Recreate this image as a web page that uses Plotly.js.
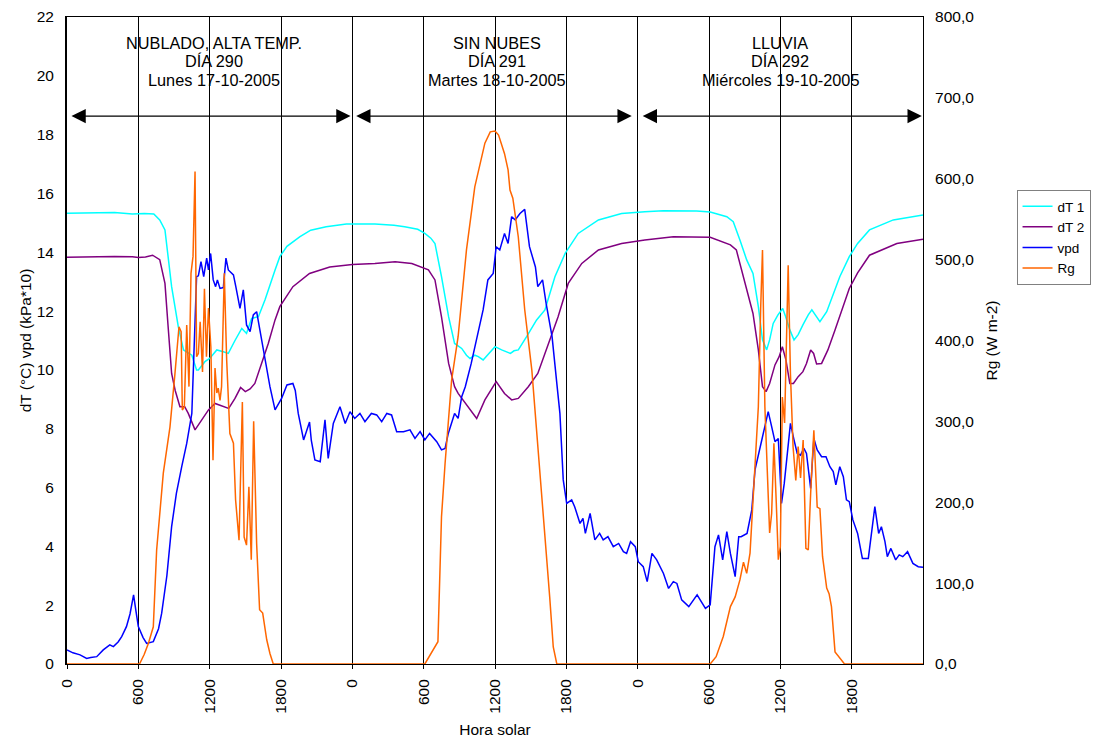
<!DOCTYPE html>
<html>
<head>
<meta charset="utf-8">
<script src="https://cdn.plot.ly/plotly-3.0.1.min.js"></script>
<style>html,body{margin:0;padding:0;background:#fff;}#chart{width:1096px;height:738px;}</style>
</head>
<body>
<div id="chart"></div>
<script>
// Time in hours since 00:00 of day 290 (0-72 h, three days)
const dayStarts = [0, 24, 48];
const dayLabels = [
  ["NUBLADO, ALTA TEMP.", "DÍA 290", "Lunes 17-10-2005"],
  ["SIN NUBES", "DÍA 291", "Martes 18-10-2005"],
  ["LLUVIA", "DÍA 292", "Miércoles 19-10-2005"]
];
const tickHours = [0, 6, 12, 18, 24, 30, 36, 42, 48, 54, 60, 66];
const tickLabels = ["0", "600", "1200", "1800", "0", "600", "1200", "1800", "0", "600", "1200", "1800"];

// dT 1 (°C)
const dT1_t = [0,2,4,5.5,6.5,7.3,7.8,8.24,8.8,9.36,9.8,10.5,10.9,11.05,11.6,12.0,12.6,13.15,13.57,14.13,14.7,15.1,15.53,16.1,16.65,17.5,17.9,18.5,19.6,20.5,21.8,23.5,
  24.5,25.9,27.5,28.4,29.5,30.1,30.6,30.95,31.5,32.1,32.6,33.2,33.6,33.9,34.3,34.6,35.0,35.5,36.0,36.56,37.0,37.3,37.6,37.96,38.66,39.5,40.2,41.04,41.9,43.0,44.7,46.65,48.6,
  50.15,52.96,54.1,55.5,56.04,56.6,57.17,57.7,58.15,58.5,58.85,59.1,59.4,59.8,60.2,60.45,60.8,61.15,61.5,61.9,62.35,62.65,63.0,63.33,63.9,64.45,65.0,65.8,66.5,67.5,69.5,72];
const dT1_v = [15.33,15.35,15.35,15.3,15.32,15.3,15.1,14.76,12.83,11.47,10.68,10.5,10.0,10.0,10.28,10.39,10.68,10.62,10.56,11.0,11.41,11.24,11.75,11.81,12.38,13.4,13.85,14.2,14.53,14.75,14.87,14.96,
  14.97,14.96,14.92,14.87,14.78,14.64,14.48,14.3,13.17,11.8,10.9,10.73,10.5,10.39,10.5,10.45,10.34,10.55,10.79,10.68,10.62,10.56,10.65,10.68,11.13,11.7,12.04,13.17,13.96,14.64,15.1,15.32,15.38,
  15.41,15.4,15.37,15.21,15.04,14.42,13.74,13.28,12.15,11.02,10.68,11.02,11.58,11.87,12.09,11.81,11.36,11.02,11.2,11.53,11.87,12.04,11.81,11.64,11.98,12.55,13.17,13.85,14.3,14.76,15.1,15.27];

// dT 2 (°C)
const dT2_t = [0,2,4,5.5,6.0,6.6,7.2,7.8,8.24,8.5,8.8,9.1,9.5,9.9,10.2,10.77,11.3,11.9,12.45,13.15,13.6,14.13,14.6,15.0,15.4,15.8,16.37,16.93,17.5,17.9,19.0,20.4,22.1,24.0,
  25.9,27.6,29.0,30.4,30.95,31.5,32.1,32.6,32.9,33.75,34.46,35.15,36.1,36.8,37.4,37.96,38.8,39.6,40.5,41.3,42.16,43.3,44.7,46.65,48.6,
  51.0,54.1,55.8,56.3,56.6,57.17,57.7,58.15,58.5,58.8,59.1,59.55,59.9,60.17,60.47,60.8,61.1,61.5,61.9,62.2,62.55,62.8,63.05,63.47,64.0,64.6,65.15,65.8,66.5,67.5,69.8,72];
const dT2_v = [13.83,13.85,13.86,13.85,13.82,13.84,13.9,13.75,12.94,11.5,9.88,9.3,8.75,8.75,8.52,7.96,8.3,8.64,8.86,8.75,8.69,9.03,9.4,9.26,9.35,9.54,10.22,10.9,11.7,12.15,12.83,13.28,13.5,13.58,
  13.62,13.68,13.62,13.4,13.06,11.8,10.22,9.43,9.2,8.75,8.35,8.98,9.6,9.2,8.98,9.03,9.43,9.88,10.9,11.8,12.94,13.62,14.08,14.3,14.42,
  14.53,14.51,14.25,14.08,13.62,12.83,11.92,10.68,9.43,9.26,9.54,10.17,10.45,10.79,10.34,9.54,9.54,9.77,9.94,10.22,10.68,10.56,10.2,10.22,10.68,11.36,12.04,12.77,13.3,13.9,14.3,14.44];

// vpd (kPa*10)
const vpd_t = [0,0.5,1.1,1.65,2.0,2.5,3.05,3.6,3.9,4.3,4.6,5.0,5.3,5.6,5.8,6.0,6.4,6.7,7.26,7.7,7.96,8.4,8.8,9.2,9.65,10.07,10.5,10.7,10.9,11.05,11.27,11.5,11.75,11.9,12.08,12.3,12.5,12.65,12.87,13.15,13.37,13.57,14.0,14.2,14.55,14.83,15.1,15.4,15.67,15.95,16.23,16.65,17.07,17.5,18.05,18.5,19.0,19.2,19.45,19.9,20.3,20.4,20.55,20.85,21.3,21.7,21.97,22.4,22.96,23.4,23.8,24.2,
  24.64,25.06,25.6,26.05,26.47,26.9,27.3,27.73,28.3,28.85,29.27,29.7,30.1,30.5,31.1,31.5,31.8,32.07,32.6,32.9,33.2,33.5,34.0,34.6,35.0,35.4,35.85,36.1,36.4,36.8,37.1,37.4,37.7,38.1,38.5,38.9,39.4,39.6,40.0,40.3,40.8,41.2,41.46,41.74,42.03,42.45,42.7,43.15,43.4,43.6,44.0,44.4,44.8,45.1,45.5,45.95,46.4,46.8,47.07,47.4,47.8,
  48.05,48.47,48.8,49.2,49.6,50.17,50.6,51.0,51.3,51.7,52.3,53.0,53.7,54.1,54.5,54.8,55.15,55.5,55.8,56.2,56.5,56.7,57.2,57.6,57.87,58.3,58.7,58.98,59.27,59.55,59.83,60.1,60.33,60.58,60.85,61.15,61.42,61.7,61.98,62.2,62.55,62.82,63.1,63.47,63.84,64.17,64.45,64.67,65.0,65.3,65.56,65.8,66.1,66.5,66.9,67.4,67.7,67.95,68.27,68.5,68.8,69.0,69.3,69.7,70.0,70.3,70.7,71.15,71.6,72];
const vpd_v = [0.48,0.38,0.31,0.19,0.22,0.25,0.48,0.65,0.59,0.75,0.93,1.27,1.7,2.35,1.8,1.27,0.9,0.7,0.76,1.2,1.72,3.0,4.67,5.8,6.71,7.5,8.52,10.79,13.17,13.2,13.68,13.17,13.8,13.4,13.96,13.06,12.83,13.06,12.77,12.8,13.8,13.4,13.23,12.83,12.09,12.72,11.53,11.3,11.87,11.98,11.36,10.34,9.43,8.64,9.03,9.49,9.54,9.3,8.52,7.62,8.18,8.23,7.6,6.94,6.88,8.3,6.99,8.18,8.75,8.18,8.58,8.35,
  8.52,8.24,8.52,8.47,8.24,8.52,8.47,7.9,7.9,7.96,7.67,7.9,7.62,7.84,7.56,7.28,7.33,7.84,8.52,8.35,9.09,9.43,10.22,11.36,12.04,13.06,13.28,14.19,14.08,14.64,14.3,15.21,15.1,15.32,15.46,14.19,13.5,12.83,13.06,12.26,11.13,9.54,8.52,6.26,5.46,5.58,5.35,4.78,4.95,4.44,5.12,4.22,4.44,4.22,4.33,3.99,4.1,3.82,3.76,4.16,3.99,
  3.48,3.31,2.8,3.76,3.54,3.08,2.57,2.8,2.74,2.18,1.95,2.35,1.89,2.01,3.99,4.39,3.54,4.5,3.76,2.97,4.33,4.33,4.44,5.24,6.6,7.39,8.18,8.58,8.07,7.56,7.67,5.46,6.14,7.16,8.18,7.62,7.16,7.1,7.33,7.16,5.97,7.67,7.28,7.05,7.05,6.71,6.54,6.09,6.71,6.37,5.58,5.52,4.9,4.44,3.59,3.59,4.5,5.35,4.44,4.67,4.16,3.65,3.93,3.54,3.71,3.65,3.82,3.42,3.31,3.29];

// Rg (W m-2)
const rg_t = [0,6.1,6.5,6.85,7.26,7.54,8.1,8.66,9.08,9.42,9.6,9.7,9.87,10.07,10.26,10.43,10.6,10.77,10.9,11.05,11.2,11.4,11.56,11.73,11.9,12.0,12.1,12.28,12.45,12.6,12.72,12.87,13.0,13.23,13.43,13.7,14.0,14.18,14.47,14.75,14.9,15.1,15.3,15.5,15.7,15.95,16.2,16.46,16.8,17.07,17.35,
  30.1,31.2,31.5,31.8,32.35,32.9,33.6,34.3,35.15,35.6,36.0,36.3,36.8,37.1,37.26,37.5,37.96,38.5,39.1,39.6,40.2,40.6,40.9,41.2,
  54.1,54.6,55.2,55.8,56.2,56.6,56.9,57.17,57.45,57.67,57.87,58.15,58.35,58.5,58.7,58.9,59.1,59.27,59.46,59.66,59.83,60.0,60.17,60.36,60.5,60.66,60.85,61.07,61.3,61.5,61.7,61.92,62.15,62.35,62.55,62.82,63.1,63.33,63.55,63.9,64.1,64.3,64.6,65.0,65.4,72];
const rg_v = [0,0,12,25.6,46,141,236,293,359,417,411,314,318,419,343,483,504,609,380,384,423,361,464,380,440,409,392,252,366,335,341,326,343,483,376,285,273,203,153,324,157,147,219,129,300,149,67,63,30,13,0,
  0,27.6,182,248,351,405,512,590,644,658,659,654,631,611,586,576,528,438,363,269,166,83,21,0,
  0,9,34,71,83,104,126,112,137,199,240,318,442,512,318,236,162,186,273,199,129,145,330,298,405,493,359,269,227,269,230,277,143,141,211,289,194,192,133,94,87,71,15,7,0,0];

const FONT = "Liberation Sans, Arial, Helvetica, sans-serif";
const LW = 1.5;

const traces = [
  {x: dT1_t, y: dT1_v, name: "dT 1", type: "scatter", mode: "lines", line: {color: "#00FFFF", width: LW}, yaxis: "y"},
  {x: dT2_t, y: dT2_v, name: "dT 2", type: "scatter", mode: "lines", line: {color: "#800080", width: LW}, yaxis: "y"},
  {x: vpd_t, y: vpd_v, name: "vpd", type: "scatter", mode: "lines", line: {color: "#0000FF", width: LW}, yaxis: "y"},
  {x: rg_t, y: rg_v, name: "Rg", type: "scatter", mode: "lines", line: {color: "#FF6600", width: LW}, yaxis: "y2"}
];

const arrowY = 18.63;
const annotations = [];
const arrowInset = [[0.25, 23.85], [24.2, 47.5], [48.3, 71.9]];
const labelLineY = [0.9605, 0.9326, 0.9033]; // three text lines, paper fraction
const labelShift = [0.35, 0.2, 0.0];
dayStarts.forEach((d, i) => {
  annotations.push({
    xref: "x", yref: "y", axref: "x", ayref: "y",
    x: arrowInset[i][1], y: arrowY, ax: arrowInset[i][0], ay: arrowY,
    text: "", showarrow: true, arrowside: "end+start",
    arrowhead: 2, startarrowhead: 2, arrowsize: 2.2, startarrowsize: 2.2,
    arrowwidth: 1.3, arrowcolor: "#000", standoff: 0, startstandoff: 0
  });
  dayLabels[i].forEach((line, j) => {
    annotations.push({
      xref: "x", yref: "paper", x: d + 12 + labelShift[i], y: labelLineY[j], xanchor: "center", yanchor: "middle",
      text: line, showarrow: false, align: "center",
      font: {family: FONT, size: 16.3, color: "#000"}
    });
  });
});

const layout = {
  width: 1096, height: 738,
  margin: {l: 67, r: 173, t: 17, b: 74, pad: 0, autoexpand: false},
  paper_bgcolor: "#fff", plot_bgcolor: "#fff",
  separators: ",.",
  font: {family: FONT, size: 15, color: "#000"},
  showlegend: true,
  legend: {xref: "container", yref: "container", x: 0.9275, y: 0.7425, xanchor: "left", yanchor: "top", bgcolor: "#fff",
           bordercolor: "#808080", borderwidth: 1, font: {family: FONT, size: 13.5, color: "#000"},
           tracegroupgap: 0},
  xaxis: {
    automargin: false,
    range: [0, 72], tickmode: "array", tickvals: tickHours, ticktext: tickLabels, tickangle: -90,
    showgrid: true, gridcolor: "#000", gridwidth: 1, zeroline: false,
    showline: true, linecolor: "#000", linewidth: 1, mirror: true,
    ticks: "outside", ticklen: 4, tickcolor: "#000", ticklabelstandoff: 4,
    tickfont: {family: FONT, size: 15.5, color: "#000"},
    title: {text: "Hora solar", font: {family: FONT, size: 15.5, color: "#000"}, standoff: 14}
  },
  yaxis: {
    automargin: false,
    range: [0, 22], dtick: 2, tick0: 0, showgrid: false, zeroline: false,
    showline: true, linecolor: "#000", linewidth: 2, ticks: "",
    ticklabelstandoff: 8,
    tickfont: {family: FONT, size: 15.5, color: "#000"},
    title: {text: "dT (°C) vpd (kPa*10)", font: {family: FONT, size: 15.5, color: "#000"}, standoff: 1}
  },
  yaxis2: {
    automargin: false,
    range: [0, 800], dtick: 100, tick0: 0, overlaying: "y", side: "right",
    showgrid: false, zeroline: false, showline: true, linecolor: "#000", linewidth: 1, ticks: "",
    tickformat: ".1f", ticklabelstandoff: 8,
    tickfont: {family: FONT, size: 15.5, color: "#000"},
    title: {text: "Rg (W m-2)", font: {family: FONT, size: 15.5, color: "#000"}, standoff: 12}
  },
  annotations: annotations
};

Plotly.newPlot("chart", traces, layout, {displayModeBar: false, staticPlot: true});
</script>
</body>
</html>
